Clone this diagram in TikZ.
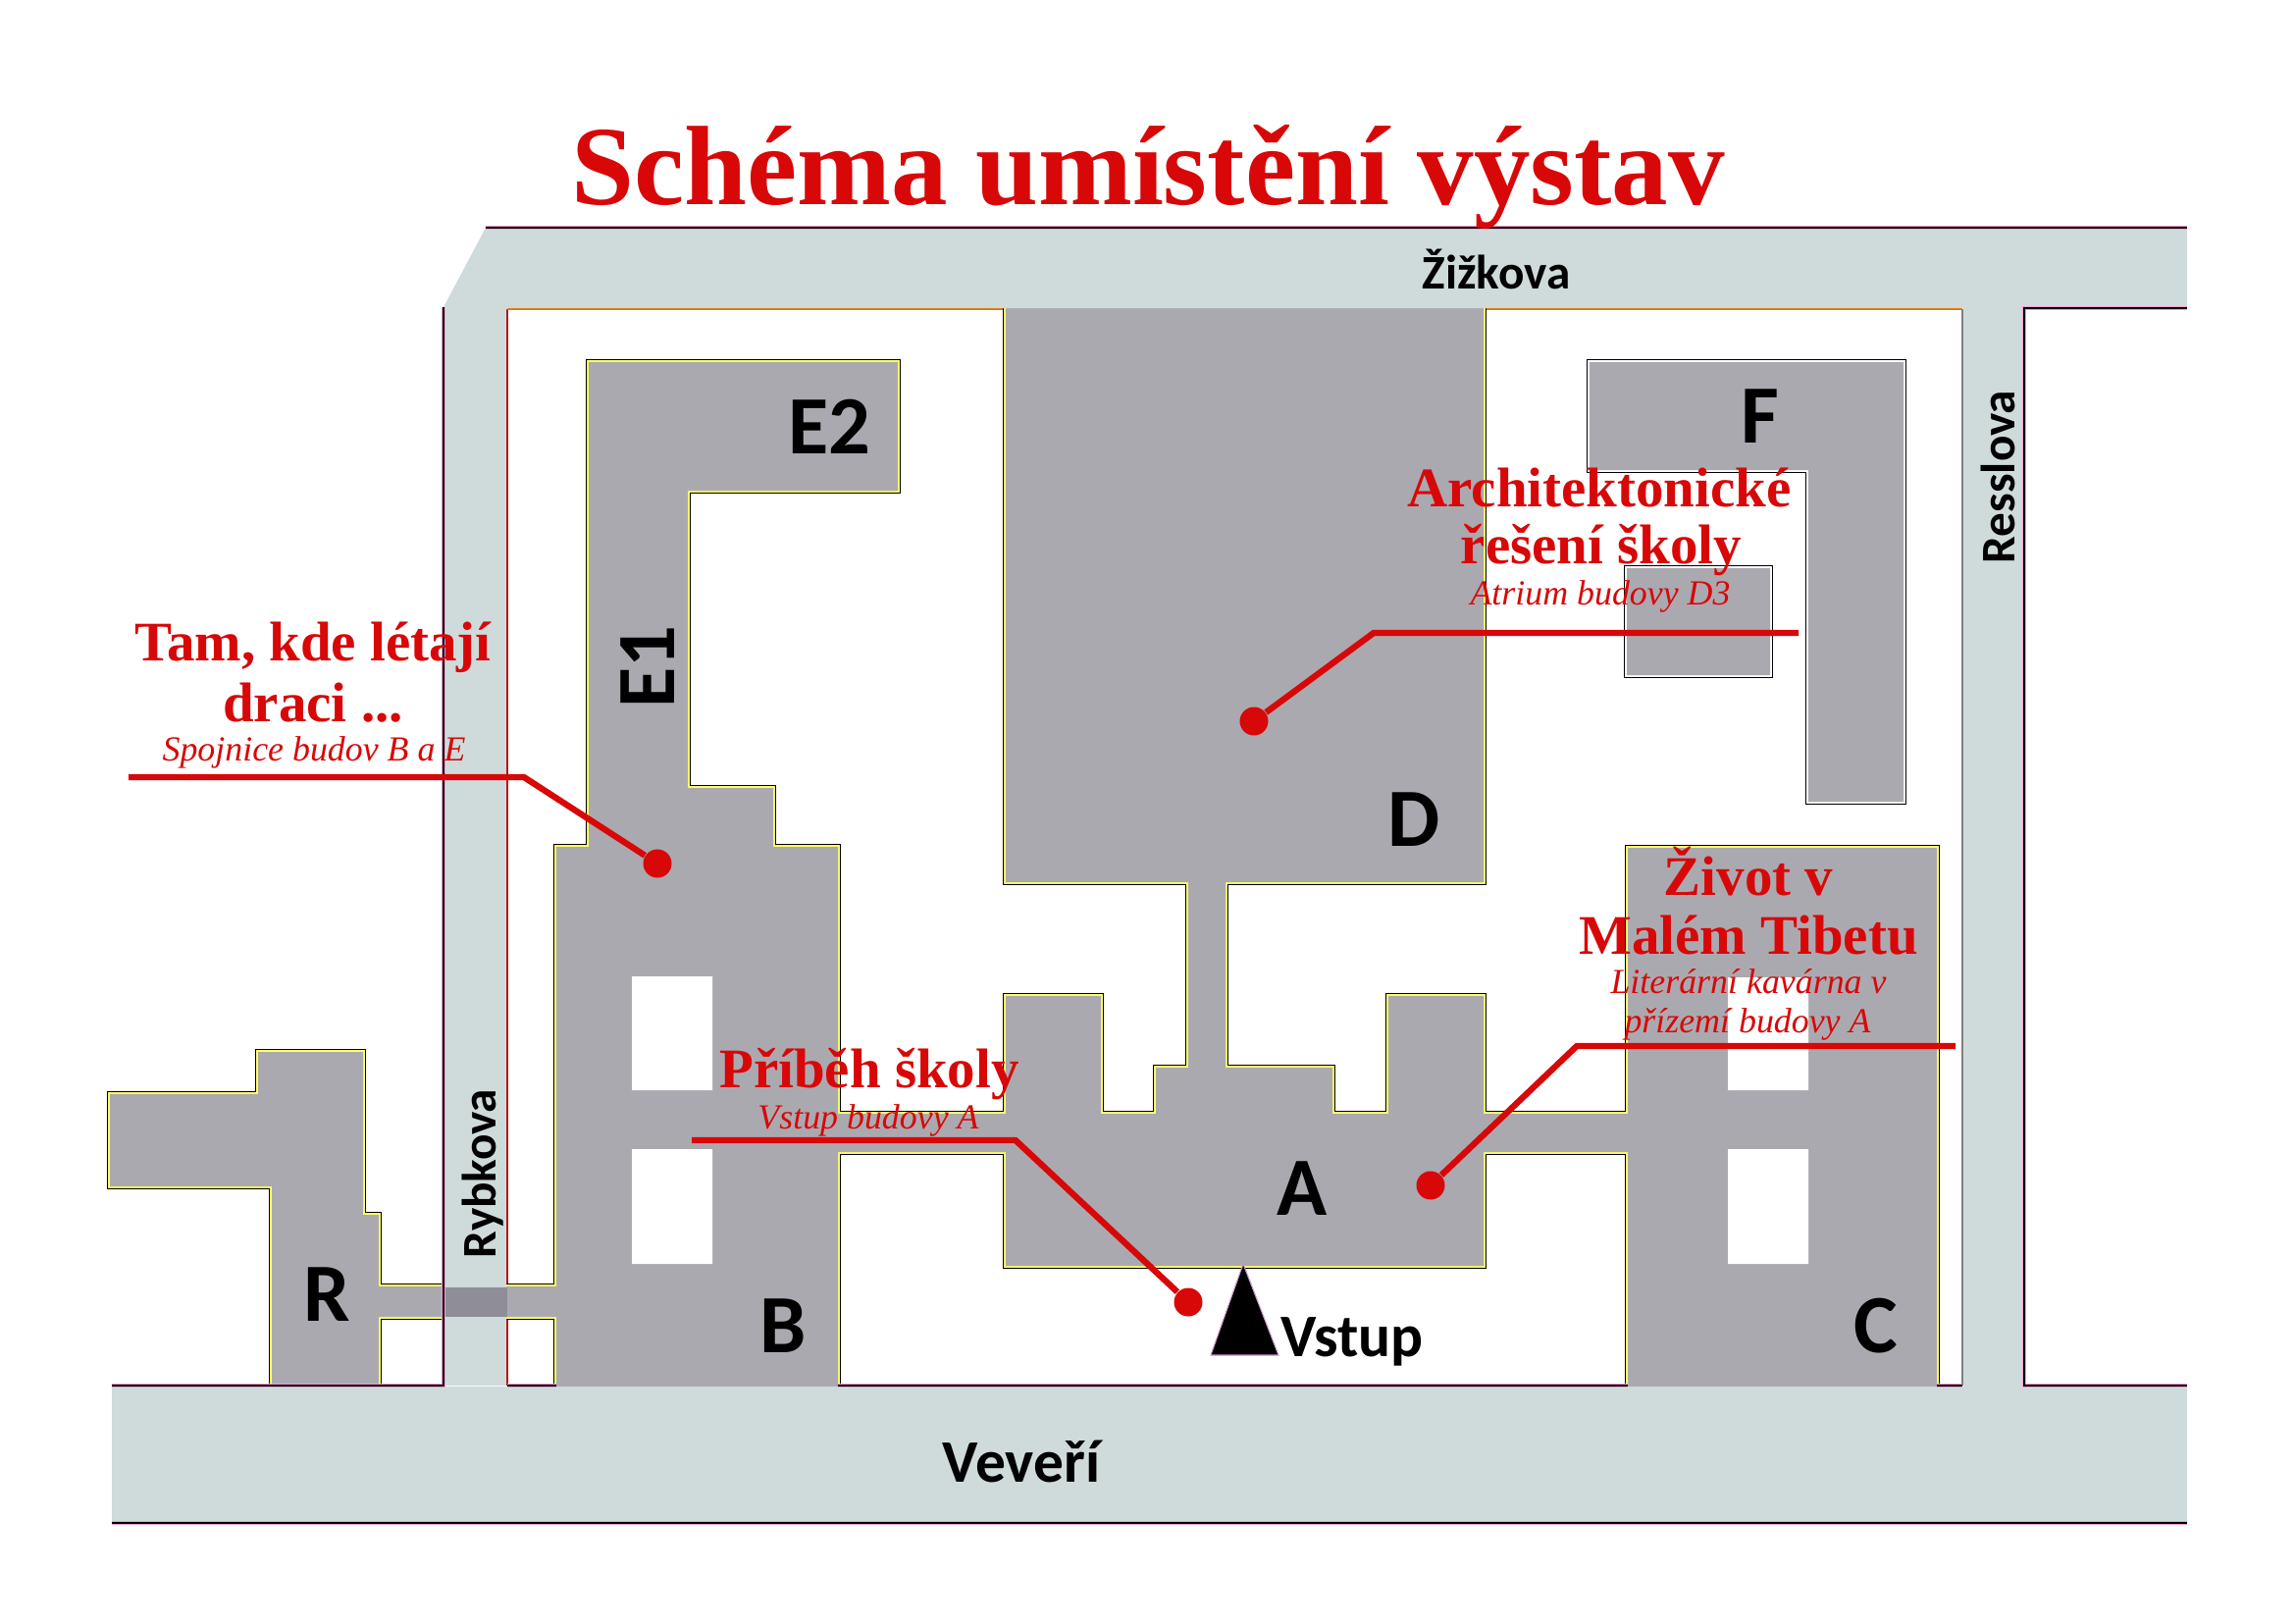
\documentclass[tikz,border=0pt]{standalone}
\usepackage{fontspec}
\setmainfont{Liberation Serif}
\setsansfont{Carlito}
\definecolor{roadcol}{HTML}{CFDBDB}
\definecolor{bldcol}{HTML}{ABA9B0}
\definecolor{darkcol}{HTML}{8F8E96}
\definecolor{yelcol}{HTML}{FFFF66}
\definecolor{pinkcol}{HTML}{F0A0D0}
\definecolor{redcol}{HTML}{D80808}
\tikzset{
	bldg/.style={fill=bldcol,preaction={draw=black,line width=1.9pt},preaction={draw=yelcol,line width=1.4pt}},
	bldgf/.style={fill=bldcol,preaction={draw=black,line width=1.9pt},preaction={draw=white,line width=1.4pt}},
	roadline/.style={draw=black,line width=.3pt,preaction={draw=pinkcol,line width=1.1pt}},
	blockline/.style={draw=red!70!black,line width=.3pt},
	leader/.style={draw=redcol,line width=1.8pt},
	leaddot/.style={circle,fill=redcol,inner sep=0pt,minimum size=.29cm},
	blacklbl/.style={font=\sffamily\bfseries\fontsize{24}{24}\selectfont,inner sep=0pt},
	streetlbl/.style={font=\sffamily\bfseries\fontsize{14}{14}\selectfont,inner sep=0pt},
	redlbl/.style={font=\bfseries\fontsize{16.2}{16.2}\selectfont,text=redcol,inner sep=0pt},
	sublbl/.style={font=\itshape\fontsize{10.2}{10.2}\selectfont,text=redcol,inner sep=0pt}
}
\begin{document}
\begin{tikzpicture}[x=.01cm,y=-.01cm]
	\useasboundingbox (0,0) rectangle (2339,1654);
	\draw[blockline] (517,1412) -- (517,315);
	\draw[blockline,draw=orange!90!black] (517,315) -- (2000,315);
	\draw[blockline,draw=gray] (2000,315) -- (2000,1412);

	% buildings
	\path[bldg] (600,369) -- (915,369) -- (915,500) -- (701,500) -- (701,803) -- (788,803) -- (788,863) -- (854,863) -- (854,1420) -- (567,1420) -- (567,863) -- (600,863) -- cycle
		(850,1135) -- (1030,1135) -- (1030,1174) -- (850,1174) -- cycle
		(1025,1015) -- (1122,1015) -- (1122,1135) -- (1178,1135) -- (1178,1088) -- (1358,1088) -- (1358,1135) -- (1415,1135) -- (1415,1015) -- (1512,1015) -- (1512,1290) -- (1025,1290) -- cycle
		(1025,310) -- (1512,310) -- (1512,899) -- (1249,899) -- (1249,1095) -- (1211,1095) -- (1211,899) -- (1025,899) -- cycle
		(1508,1135) -- (1664,1135) -- (1664,1174) -- (1508,1174) -- cycle
		(1659,864) -- (1974,864) -- (1974,1420) -- (1659,1420) -- cycle
		(263,1072) -- (370,1072) -- (370,1238) -- (386,1238) -- (386,1411) -- (277,1411) -- (277,1209) -- (112,1209) -- (112,1115) -- (263,1115) -- cycle
		(380,1311) -- (572,1311) -- (572,1342) -- (380,1342) -- cycle;
	\path[bldgf] (1620,369) -- (1940,369) -- (1940,817) -- (1843,817) -- (1843,479) -- (1620,479) -- cycle
		(1658,579) -- (1804,579) -- (1804,688) -- (1658,688) -- cycle;
	\fill[white] (644,995) rectangle (726,1111) (644,1171) rectangle (726,1288);
	\fill[white] (1761,996) rectangle (1843,1111) (1761,1171) rectangle (1843,1288);

	% streets
	\fill[roadcol] (495,232) -- (2229,232) -- (2229,314) -- (516,314) -- (516,1412) -- (452,1412) -- (452,313) -- cycle;
	\fill[roadcol] (2001,314) rectangle (2063,1413);
	\fill[roadcol] (114,1413) rectangle (2229,1552);
	\fill[darkcol] (452,1312) rectangle (517,1342);
	\draw[roadline] (495,232) -- (2229,232);
	\draw[roadline] (452,313) -- (452,1412) -- (114,1412);
	\draw[roadline] (2229,314) -- (2063,314) -- (2063,1412) -- (2229,1412);
	\draw[roadline] (114,1552) -- (2229,1552);
	\draw[roadline] (517,1412) -- (567,1412) (854,1412) -- (1659,1412) (1974,1412) -- (2000,1412);

	% entrance
	\draw[fill=black,draw=violet!40,line width=.3pt] (1267,1288) -- (1303,1381) -- (1234,1381) -- cycle;

	% leaders
	\node[leaddot] (tamdot) at (670,880) {};
	\node[leaddot] (pribehdot) at (1211,1327) {};
	\node[leaddot] (archdot) at (1278,735) {};
	\node[leaddot] (zivotdot) at (1458,1208) {};
	\coordinate (tamend) at (131,792);
	\coordinate (tambend) at (534,792);
	\coordinate (pribehend) at (705,1162);
	\coordinate (pribehbend) at (1035,1162);
	\coordinate (archend) at (1833,645);
	\coordinate (archbend) at (1400,645);
	\coordinate (zivotend) at (1993,1066);
	\coordinate (zivotbend) at (1607,1066);
	\draw[leader] (tamend) -- (tambend) -- (tamdot);
	\draw[leader] (pribehend) -- (pribehbend) -- (pribehdot);
	\draw[leader] (archend) -- (archbend) -- (archdot);
	\draw[leader] (zivotend) -- (zivotbend) -- (zivotdot);

	% building letters
	\node[blacklbl] (lblE2) at (845,435) {E2};
	\node[blacklbl,rotate=90] (lblE1) at (660,680) {E1};
	\node[blacklbl] (lblR) at (333,1319) {R};
	\node[blacklbl] (lblB) at (798,1351) {B};
	\node[blacklbl] (lblD) at (1441,835) {D};
	\node[blacklbl] (lblF) at (1794,424) {F};
	\node[blacklbl] (lblA) at (1327,1211) {A};
	\node[blacklbl] (lblC) at (1912,1351) {C};

	% street names
	\node[streetlbl] (zizkova) at (1525,274) {Žižkova};
	\node[streetlbl,font=\sffamily\bfseries\fontsize{17.5}{17.5}\selectfont] (veveri) at (1041,1489) {Veveří};
	\node[streetlbl,font=\sffamily\bfseries\fontsize{17.5}{17.5}\selectfont] (vstup) at (1378,1367) {Vstup};
	\node[streetlbl,rotate=90] (rybkova) at (492,1196) {Rybkova};
	\node[streetlbl,rotate=90] (resslova) at (2036,486) {Resslova};

	% texts
	\node[redlbl,font=\bfseries\fontsize{32.7}{32.7}\selectfont] (title) at (1170,180) {Schéma umístění výstav};
	\node[redlbl] (tamA) at (319,660) {Tam, kde létají};
	\node[redlbl] (tamB) at (319,716) {draci ...};
	\node[sublbl] (tamC) at (320,767) {Spojnice budov B a E};
	\node[redlbl] (pribehA) at (886,1095) {Příběh školy};
	\node[sublbl] (pribehB) at (885,1142) {Vstup budovy A};
	\node[redlbl] (archA) at (1630,497) {Architektonické};
	\node[redlbl] (archB) at (1632,561) {řešení školy};
	\node[sublbl] (archC) at (1631,608) {Atrium budovy D3};
	\node[redlbl] (zivotA) at (1782,888) {Život v};
	\node[redlbl] (zivotB) at (1782,953) {Malém Tibetu};
	\node[sublbl] (zivotC) at (1782,1000) {Literární kavárna v};
	\node[sublbl] (zivotD) at (1781,1044) {přízemí budovy A};
\end{tikzpicture}
\end{document}
